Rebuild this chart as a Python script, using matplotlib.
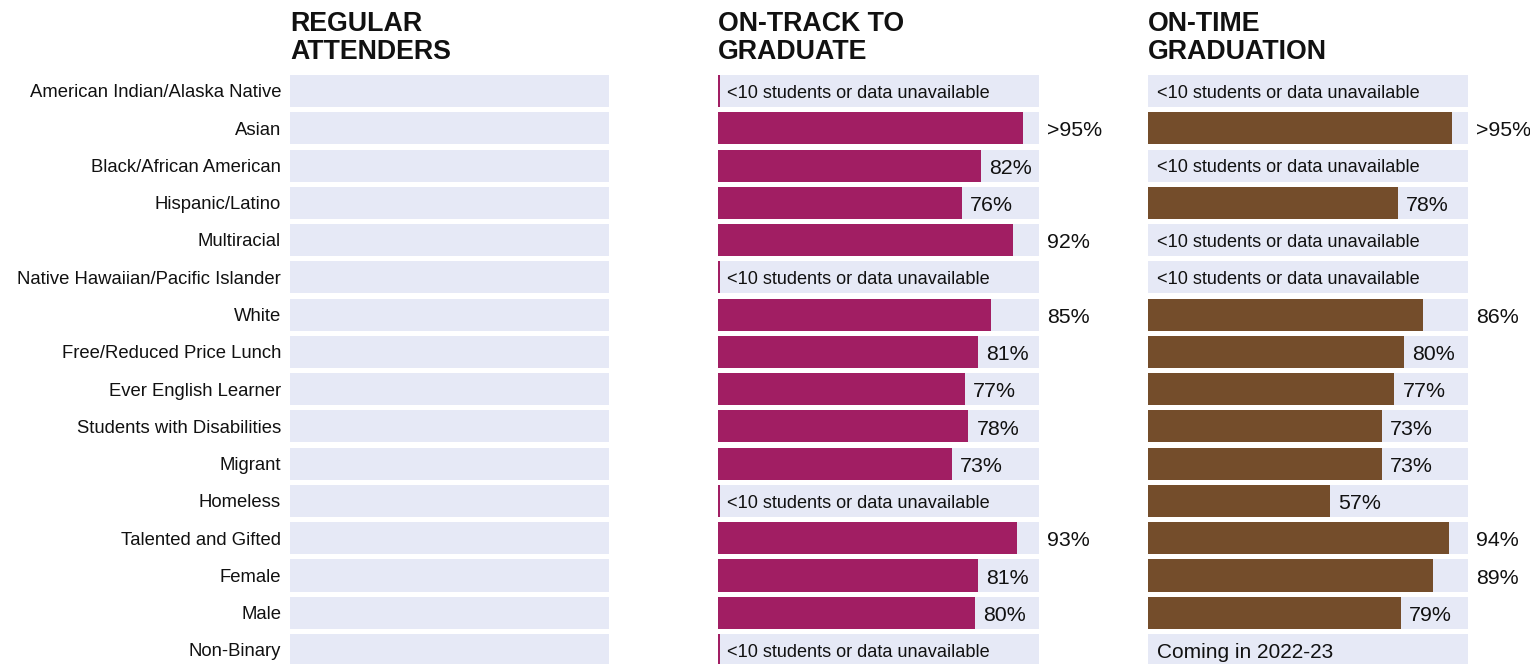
import matplotlib.pyplot as plt

plt.rcParams['font.family'] = ['Liberation Sans', 'DejaVu Sans']

groups = [
    "American Indian/Alaska Native", "Asian", "Black/African American",
    "Hispanic/Latino", "Multiracial", "Native Hawaiian/Pacific Islander",
    "White", "Free/Reduced Price Lunch", "Ever English Learner",
    "Students with Disabilities", "Migrant", "Homeless",
    "Talented and Gifted", "Female", "Male", "Non-Binary",
]

# None = fewer than 10 students / unavailable
on_track = [None, 95, 82, 76, 92, None, 85, 81, 77, 78, 73, None, 93, 81, 80, None]
on_track_labels = ["", ">95%", "82%", "76%", "92%", "", "85%", "81%", "77%",
                   "78%", "73%", "", "93%", "81%", "80%", ""]

on_time = [None, 95, None, 78, None, None, 86, 80, 77, 73, 73, 57, 94, 89, 79, None]
on_time_labels = ["", ">95%", "", "78%", "", "", "86%", "80%", "77%",
                  "73%", "73%", "57%", "94%", "89%", "79%", ""]
on_time_notes = {15: "Coming in 2022-23"}

titles = ["REGULAR\nATTENDERS", "ON-TRACK TO\nGRADUATE", "ON-TIME\nGRADUATION"]

BG = "#E6E9F6"
MAGENTA = "#A11E63"
BROWN = "#744D2B"
MISSING = "<10 students or data unavailable"

W, H = 1530, 664
fig = plt.figure(figsize=(W / 100, H / 100), dpi=100)

panels = [(290, 609), (718, 1039), (1148, 1468)]
top_px, bot_px = 72, 664
row0, step = 91, 37.27
ylo = (bot_px - row0) / step
yhi = (top_px - row0) / step

axes = []
for (x0, x1) in panels:
    ax = fig.add_axes([x0 / W, 0, (x1 - x0) / W, (H - top_px) / H])
    ax.set_xlim(0, 100)
    ax.set_ylim(ylo, yhi)
    ax.axis("off")
    ax.barh(range(len(groups)), [100] * len(groups), height=0.86,
            color=BG, left=0)
    axes.append(ax)

for i, g in enumerate(groups):
    axes[0].text(-2.8, i + 0.05, g, ha="right", va="center", fontsize=13.3,
                 color="#111111")


def draw_panel(ax, vals, labels, color, notes, missing_line):
    for i, v in enumerate(vals):
        if v is None:
            if missing_line:
                ax.barh(i, 0.5, height=0.86, color=color)
            txt = notes.get(i, MISSING)
            fs = 15 if i in notes else 13.1
            ax.text(2.8, i + 0.06, txt, ha="left", va="center",
                    fontsize=fs, color="#111111")
            continue
        ax.barh(i, v, height=0.86, color=color)
        if v >= 85:
            x = 102.5
        else:
            x = v + 2.5
        ax.text(x, i + 0.07, labels[i], ha="left", va="center",
                fontsize=15.4, color="#111111", clip_on=False)


draw_panel(axes[1], on_track, on_track_labels, MAGENTA, {}, True)
draw_panel(axes[2], on_time, on_time_labels, BROWN, on_time_notes, False)

for (x0, _), t in zip(panels, titles):
    fig.text(x0 / W, 1 - 11 / H, t, ha="left", va="top", fontsize=19.3,
             fontweight="bold", linespacing=1.12, color="#111111")

fig.savefig("out.png", dpi=100)
